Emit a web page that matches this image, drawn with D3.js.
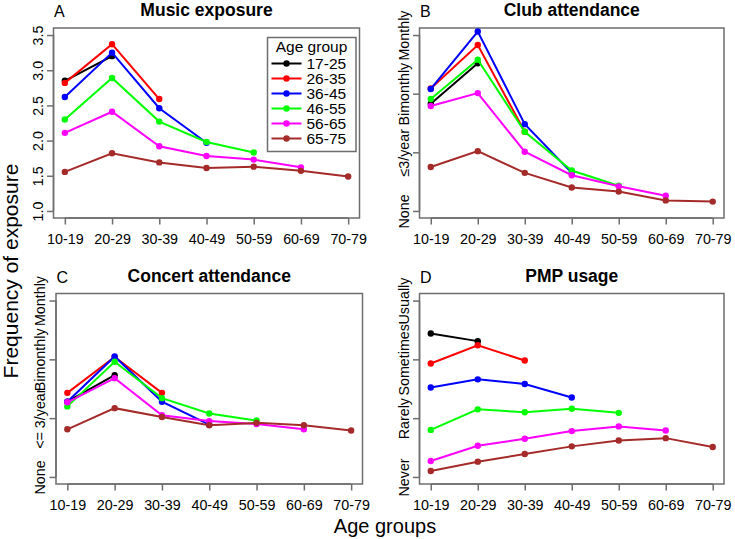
<!DOCTYPE html>
<html>
<head>
<meta charset="utf-8">
<script src="https://cdn.jsdelivr.net/npm/d3@7"></script>
<style>
  html, body { margin: 0; padding: 0; background: #fff; }
  svg { display: block; font-family: "Liberation Sans", Arial, sans-serif; }
</style>
</head>
<body>
<svg id="chart" width="735" height="539"></svg>
<script>
// ---- data ----
const decades = ["10-19", "20-29", "30-39", "40-49", "50-59", "60-69", "70-79"];
const ageGroups = ["17-25", "26-35", "36-45", "46-55", "56-65", "65-75"];
const groupColors = ["#000000", "#FF0000", "#0000FF", "#00FF00", "#FF00FF", "#A52A2A"];

// A: Music exposure (each series starts at decade 10-19)
const musicExposure = [
  [2.85, 3.20],
  [2.82, 3.37, 2.59],
  [2.62, 3.25, 2.46, 1.97],
  [2.30, 2.89, 2.27, 1.98, 1.83],
  [2.11, 2.41, 1.92, 1.78, 1.73, 1.62],
  [1.555, 1.82, 1.69, 1.61, 1.63, 1.57, 1.49]
];
// B: Club attendance (0 = None ... 3 = Monthly)
const clubAttendance = [
  [1.83, 2.52],
  [2.09, 2.83, 1.35],
  [2.08, 3.06, 1.48, 0.65],
  [1.91, 2.58, 1.35, 0.69, 0.43],
  [1.79, 2.01, 1.01, 0.61, 0.42, 0.26],
  [0.75, 1.02, 0.65, 0.40, 0.33, 0.18, 0.16]
];
// C: Concert attendance
const concertAttendance = [
  [1.28, 1.73],
  [1.43, 2.04, 1.43],
  [1.28, 2.05, 1.28, 0.89],
  [1.20, 1.96, 1.34, 1.08, 0.96],
  [1.27, 1.68, 1.05, 0.95, 0.90, 0.81],
  [0.81, 1.17, 1.02, 0.88, 0.92, 0.88, 0.79]
];
// D: PMP usage (0 = Never ... 3 = Usually)
const pmpUsage = [
  [2.44, 2.31],
  [1.93, 2.24, 1.98],
  [1.52, 1.66, 1.58, 1.35],
  [0.80, 1.15, 1.10, 1.16, 1.09],
  [0.27, 0.53, 0.65, 0.78, 0.86, 0.79],
  [0.10, 0.26, 0.39, 0.52, 0.62, 0.66, 0.51]
];

const musicTicks = [1.0, 1.5, 2.0, 2.5, 3.0, 3.5];
const clubTickLabels = ["None", "\u22643/year", "Bimonthly", "Monthly"];
const concertTickLabels = ["None", "<= 3/year", "Bimonthly", "Monthly"];
const pmpTickLabels = ["Never", "Rarely", "Sometimes", "Usually"];

const panels = [
  { letter: "A", title: "Music exposure", data: musicExposure, yDomain: [1.0, 3.5],
    ticks: musicTicks, tickLabels: musicTicks.map(d => d.toFixed(1)),
    box: { x0: 53.5, x1: 359.5, y0: 28, y1: 218 }, legend: true },
  { letter: "B", title: "Club attendance", data: clubAttendance, yDomain: [0, 3],
    ticks: [0, 1, 2, 3], tickLabels: clubTickLabels,
    box: { x0: 419.5, x1: 724, y0: 28, y1: 218 } },
  { letter: "C", title: "Concert attendance", data: concertAttendance, yDomain: [0, 3],
    ticks: [0, 1, 2, 3], tickLabels: concertTickLabels,
    box: { x0: 56, x1: 362.5, y0: 293.5, y1: 484 } },
  { letter: "D", title: "PMP usage", data: pmpUsage, yDomain: [0, 3],
    ticks: [0, 1, 2, 3], tickLabels: pmpTickLabels,
    box: { x0: 419.5, x1: 724, y0: 293.5, y1: 484 } }
];

const svg = d3.select("#chart");
const axisColor = "#6e6e6e";
const tickLen = 6.5;

panels.forEach(p => {
  const b = p.box;
  const xPad = (decades.length - 1) * 0.04;
  const x = d3.scaleLinear().domain([-xPad, decades.length - 1 + xPad]).range([b.x0, b.x1]);
  const yExt = (p.yDomain[1] - p.yDomain[0]) * 0.04;
  const y = d3.scaleLinear().domain([p.yDomain[0] - yExt, p.yDomain[1] + yExt]).range([b.y1, b.y0]);

  const g = svg.append("g");

  // box
  g.append("rect").attr("x", b.x0).attr("y", b.y0)
    .attr("width", b.x1 - b.x0).attr("height", b.y1 - b.y0)
    .attr("fill", "none").attr("stroke", axisColor).attr("stroke-width", 1.5);

  // x axis
  const xAxis = d3.axisBottom(x).tickValues(d3.range(decades.length))
    .tickFormat(i => decades[i]).tickSize(tickLen).tickPadding(9);
  const xg = g.append("g").attr("transform", `translate(0,${b.y1})`).call(xAxis);
  xg.select(".domain").attr("stroke", axisColor).attr("stroke-width", 1.5)
    .attr("d", `M${x(0)},0H${x(decades.length - 1)}`);
  xg.selectAll(".tick line").attr("stroke", axisColor).attr("stroke-width", 1.5);
  xg.selectAll(".tick text").attr("fill", "#000").style("font-size", "14.3px")
    .style("font-family", "'Liberation Sans', Arial, sans-serif");

  // y axis
  const yAxis = d3.axisLeft(y).tickValues(p.ticks)
    .tickFormat((d, i) => p.tickLabels[i]).tickSize(tickLen);
  const yg = g.append("g").attr("transform", `translate(${b.x0},0)`).call(yAxis);
  yg.select(".domain").attr("stroke", axisColor).attr("stroke-width", 1.5)
    .attr("d", `M0,${y(p.yDomain[0])}V${y(p.yDomain[1])}`);
  yg.selectAll(".tick line").attr("stroke", axisColor).attr("stroke-width", 1.5);
  yg.selectAll(".tick text")
    .attr("fill", "#000")
    .attr("x", null).attr("dy", null)
    .attr("text-anchor", "middle")
    .attr("transform", "translate(-11,0) rotate(-90)")
    .attr("y", 0)
    .style("font-size", "14.3px")
    .style("font-family", "'Liberation Sans', Arial, sans-serif");

  // title
  g.append("text").attr("x", (b.x0 + b.x1) / 2).attr("y", b.y0 - 12)
    .attr("text-anchor", "middle").style("font-size", "17.5px").style("font-weight", "bold")
    .text(p.title);
  // panel letter
  g.append("text").attr("x", b.x0 + 0.5).attr("y", b.y0 - 11)
    .style("font-size", "16px").text(p.letter);

  // series
  const line = d3.line().x((d, i) => x(i)).y(d => y(d));
  p.data.forEach((series, si) => {
    g.append("path").datum(series).attr("d", line)
      .attr("fill", "none").attr("stroke", groupColors[si]).attr("stroke-width", 2);
    g.selectAll(null).data(series).enter().append("circle")
      .attr("cx", (d, i) => x(i)).attr("cy", d => y(d)).attr("r", 3.2)
      .attr("fill", groupColors[si]);
  });

  if (p.legend) {
    const lg = g.append("g");
    lg.append("rect").attr("x", 267.5).attr("y", 37.5).attr("width", 88.5).attr("height", 114)
      .attr("fill", "#fff").attr("stroke", axisColor).attr("stroke-width", 1.5);
    lg.append("text").attr("x", 311.5).attr("y", 51.5).attr("text-anchor", "middle")
      .style("font-size", "15.5px").text("Age group");
    ageGroups.forEach((ag, i) => {
      const yy = 63.5 + i * 15;
      lg.append("line").attr("x1", 271.5).attr("x2", 301.5).attr("y1", yy).attr("y2", yy)
        .attr("stroke", groupColors[i]).attr("stroke-width", 2);
      lg.append("circle").attr("cx", 286.5).attr("cy", yy).attr("r", 3.2).attr("fill", groupColors[i]);
      lg.append("text").attr("x", 306.5).attr("y", yy + 5.5).style("font-size", "15.5px").text(ag);
    });
  }
});

// global axis titles
svg.append("text").attr("transform", "translate(18,271) rotate(-90)")
  .attr("text-anchor", "middle").style("font-size", "21px").text("Frequency of exposure");
svg.append("text").attr("x", 385).attr("y", 533)
  .attr("text-anchor", "middle").style("font-size", "20px").text("Age groups");
</script>
</body>
</html>
